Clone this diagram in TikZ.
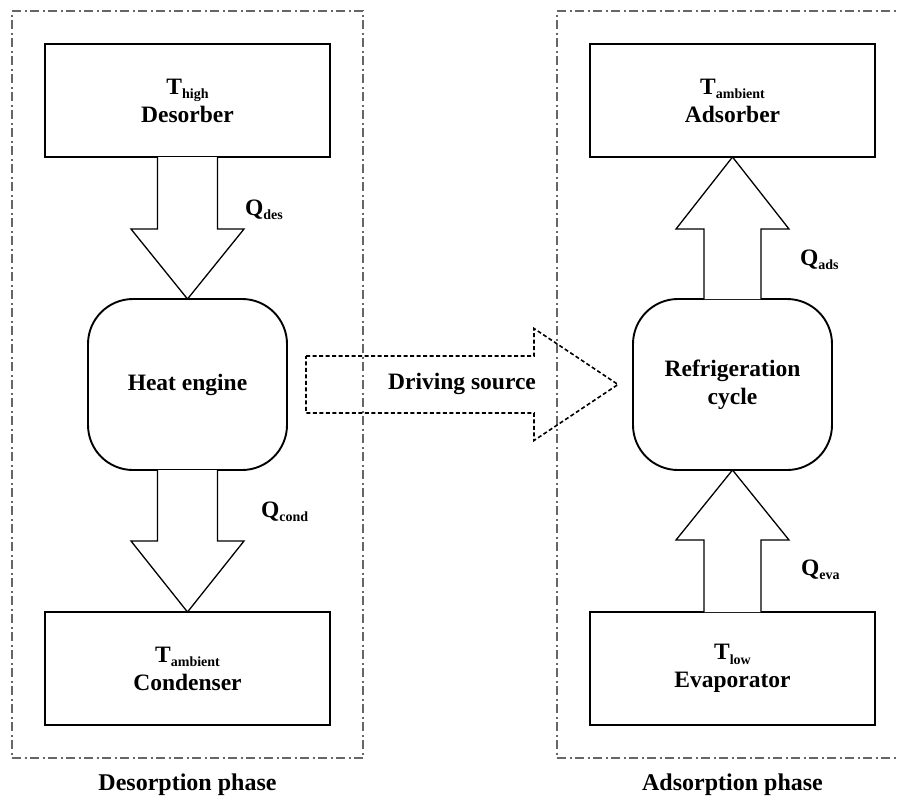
\documentclass[tikz,border=0pt]{standalone}
\usepackage{fontspec}
\setmainfont{Liberation Serif}
\usetikzlibrary{positioning, fit, calc}
\newcommand{\lowidx}[1]{\raisebox{-4.5pt}{\fontsize{14}{14}\selectfont #1}}
\tikzset{
  tank/.style={
    rectangle, draw=black, line width=2.2pt, fill=white,
    minimum width=285pt, minimum height=113pt, outer sep=0pt,
    align=center, font=\fontsize{23.5}{28}\selectfont\bfseries
  },
  cyclebox/.style={
    rectangle, rounded corners=45pt, draw=black, line width=1.9pt,
    fill=white, minimum width=199pt, minimum height=171pt, outer sep=0pt,
    align=center, font=\fontsize{23.5}{28}\selectfont\bfseries
  },
  heat/.style={draw=black, line width=1.3pt, fill=white},
  drive/.style={draw=black, line width=1.6pt, dash pattern=on 4pt off 2.5pt},
  phase/.style={
    draw=black!60, line width=1.4pt,
    dash pattern=on 9pt off 3.5pt on 2pt off 3.5pt,
    inner xsep=33pt, inner ysep=33pt
  },
  qlabel/.style={font=\fontsize{23.5}{28}\selectfont\bfseries},
  caption/.style={font=\fontsize{24}{28}\selectfont\bfseries}
}

\begin{document}
\begin{tikzpicture}[x=1pt, y=-1pt]
  \useasboundingbox (0,0) rectangle (899,804);
  \clip (0,0) rectangle (899,804);

  \node[tank] (des) at (187.5,100.5) {T\lowidx{high}\\Desorber};
  \node[cyclebox, below=142pt of des] (eng) {Heat engine};
  \node[tank, below=142pt of eng] (con) {T\lowidx{ambient}\\Condenser};
  \node[tank, right=260pt of des] (ads) {T\lowidx{ambient}\\Adsorber};
  \node[cyclebox, below=142pt of ads] (ref) {Refrigeration\\cycle};
  \node[tank, below=142pt of ref] (eva) {T\lowidx{low}\\Evaporator};

  \node[phase, fit=(des)(con)] (desbox) {};
  \node[phase, fit=(ads)(eva)] (adsbox) {};
  \node[caption, below=12pt of desbox] (descap) {Desorption phase};
  \node[caption, below=12pt of adsbox.south -| ref] (adscap) {Adsorption phase};

  \draw[heat] ($(des.south)+(-30,0)$) -- ($(des.south)+(-30,72)$)
    -- ($(des.south)+(-56.5,72)$) -- (eng.north) -- ($(des.south)+(56.5,72)$)
    -- ($(des.south)+(30,72)$) -- ($(des.south)+(30,0)$);
  \draw[heat] ($(eng.south)+(-30,0)$) -- ($(eng.south)+(-30,71)$)
    -- ($(eng.south)+(-56.5,71)$) -- (con.north) -- ($(eng.south)+(56.5,71)$)
    -- ($(eng.south)+(30,71)$) -- ($(eng.south)+(30,0)$);
  \draw[heat] ($(ref.north)+(-28.5,0)$) -- ($(ref.north)+(-28.5,-70)$)
    -- ($(ref.north)+(-56.5,-70)$) -- (ads.south) -- ($(ref.north)+(56.5,-70)$)
    -- ($(ref.north)+(28.5,-70)$) -- ($(ref.north)+(28.5,0)$);
  \draw[heat] ($(eva.north)+(-28.5,0)$) -- ($(eva.north)+(-28.5,-72)$)
    -- ($(eva.north)+(-56.5,-72)$) -- (ref.south) -- ($(eva.north)+(56.5,-72)$)
    -- ($(eva.north)+(28.5,-72)$) -- ($(eva.north)+(28.5,0)$);

  \node[qlabel, anchor=west] (qdes) at ($(des.south)+(54,53)$) {Q\lowidx{des}};
  \node[qlabel, anchor=west] (qcond) at ($(eng.south)+(70,42)$) {Q\lowidx{cond}};
  \node[qlabel, anchor=west] (qads) at ($(ref.north)+(64,-39)$) {Q\lowidx{ads}};
  \node[qlabel, anchor=west] (qeva) at ($(eva.north)+(65,-42)$) {Q\lowidx{eva}};

  \coordinate (dtail) at ($(eng.east)+(19,0)$);
  \coordinate (dtip) at ($(ref.west)+(-15,0)$);
  \draw[drive] ($(dtail)+(0,-28.5)$) -- ($(dtip)+(-84,-28.5)$)
    -- ($(dtip)+(-84,-56)$) -- (dtip) -- ($(dtip)+(-84,56)$)
    -- ($(dtip)+(-84,28.5)$) -- ($(dtail)+(0,28.5)$) -- cycle;
  \node[qlabel] (drv) at ($(dtail)+(156,-1)$) {Driving source};
\end{tikzpicture}
\end{document}
